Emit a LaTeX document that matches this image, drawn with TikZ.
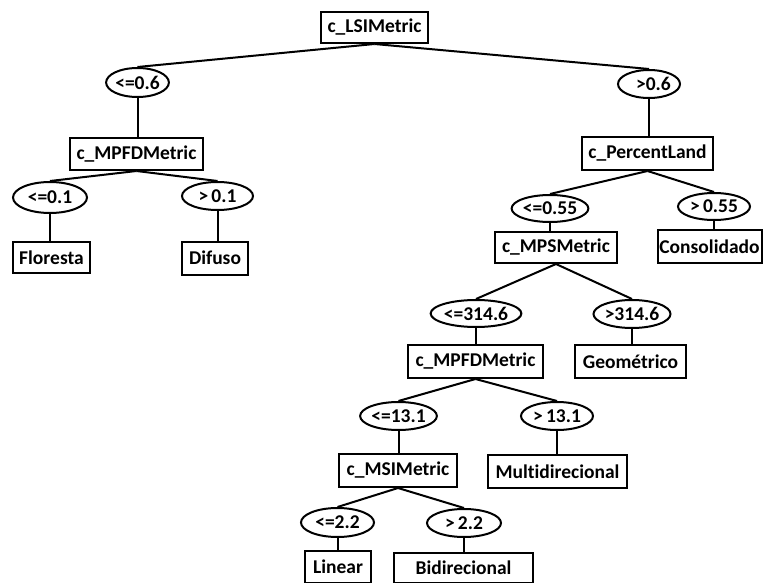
\documentclass[tikz,border=0pt]{standalone}
\usepackage{fontspec}
\setmainfont{Carlito}[Ligatures={NoCommon}]
\usetikzlibrary{shapes.geometric}
\tikzset{
  box/.style={draw, line width=2pt, rectangle, inner sep=0pt, font=\fontsize{19.5}{21}\selectfont\bfseries},
  cond/.style={draw, line width=2pt, ellipse, inner sep=0pt, font=\fontsize{19.5}{21}\selectfont\bfseries},
  link/.style={line width=2pt}
}
\begin{document}
\begin{tikzpicture}[x=1pt,y=-1pt]
\useasboundingbox (0,0) rectangle (763,583);
% decision boxes
\node[box, minimum width=107pt, minimum height=31pt] (lsi) at (374.5,27.5) {c\_LSIMetric};
\node[box, minimum width=133pt, minimum height=32pt] (mpfd1) at (136.5,154) {c\_MPFDMetric};
\node[box, minimum width=131pt, minimum height=33pt] (pl) at (647.5,153.5) {c\_PercentLand};
\node[box, minimum width=122pt, minimum height=31pt] (mps) at (556,247.5) {c\_MPSMetric};
\node[box, minimum width=135pt, minimum height=33pt] (mpfd2) at (475.5,361.5) {c\_MPFDMetric};
\node[box, minimum width=118pt, minimum height=33pt] (msi) at (398,470.5) {c\_MSIMetric};
% leaves
\node[box, minimum width=77pt, minimum height=31pt] (flo) at (51.5,257.5) {Floresta};
\node[box, minimum width=66pt, minimum height=33pt] (dif) at (215,258) {Difuso};
\node[box, minimum width=104pt, minimum height=33pt] (con) at (709.5,246.5) {Consolidado};
\node[box, minimum width=111pt, minimum height=33pt] (geo) at (630.5,361.5) {Geométrico};
\node[box, minimum width=139pt, minimum height=33pt] (mul) at (557.5,471.5) {Multidirecional};
\node[box, minimum width=66pt, minimum height=32pt] (lin) at (338,567) {Linear};
\node[box, minimum width=139pt, minimum height=30pt] (bid) at (463.5,568) {Bidirecional};
% conditions
\node[cond, minimum width=61pt, minimum height=29pt] (c1) at (137.5,82.5) {<=0.6};
\node[cond, minimum width=62pt, minimum height=28pt] (c2) at (649,84) {\ \ >0.6};
\node[cond, minimum width=74pt, minimum height=31pt] (c3) at (50,197.5) {<=0.1};
\node[cond, minimum width=71pt, minimum height=28pt] (c4) at (217.5,196) {>\,0.1};
\node[cond, minimum width=66pt, minimum height=27pt] (c5) at (550,208.5) {<=0.55};
\node[cond, minimum width=72pt, minimum height=27pt] (c6) at (714,206.5) {>\,0.55};
\node[cond, minimum width=72pt, minimum height=27pt] (c7) at (476,313.5) {<=314.6};
\node[cond, minimum width=72pt, minimum height=28pt] (c8) at (632,314) {>314.6};
\node[cond, minimum width=73pt, minimum height=28pt] (c9) at (398.5,416) {<=13.1};
\node[cond, minimum width=72pt, minimum height=28pt] (c10) at (557,416) {>\,13.1};
\node[cond, minimum width=73pt, minimum height=29pt] (c11) at (337.5,522.5) {<=2.2};
\node[cond, minimum width=74pt, minimum height=28pt] (c12) at (464,523) {>\,2.2};
% connectors
\draw[link] (lsi.south) -- (c1.north);
\draw[link] (lsi.south) -- (c2.north);
\draw[link] (c1.south) -- (mpfd1.north -| c1.south);
\draw[link] (c2.south) -- (pl.north -| c2.south);
\draw[link] (mpfd1.south) -- (c3.north);
\draw[link] (mpfd1.south) -- (c4.north);
\draw[link] (c3.south) -- (flo.north -| c3.south);
\draw[link] (c4.south) -- (dif.north -| c4.south);
\draw[link] (pl.south) -- (c5.north);
\draw[link] (pl.south) -- (c6.north);
\draw[link] (c5.south) -- (mps.north -| c5.south);
\draw[link] (c6.south) -- (con.north -| c6.south);
\draw[link] (mps.south) -- (c7.north);
\draw[link] (mps.south) -- (c8.north);
\draw[link] (c7.south) -- (mpfd2.north -| c7.south);
\draw[link] (c8.south) -- (geo.north -| c8.south);
\draw[link] (mpfd2.south) -- (c9.north);
\draw[link] (mpfd2.south) -- (c10.north);
\draw[link] (c9.south) -- (msi.north -| c9.south);
\draw[link] (c10.south) -- (mul.north -| c10.south);
\draw[link] (msi.south) -- (c11.north);
\draw[link] (msi.south) -- (c12.north);
\draw[link] (c11.south) -- (lin.north -| c11.south);
\draw[link] (c12.south) -- (bid.north -| c12.south);
\end{tikzpicture}
\end{document}
